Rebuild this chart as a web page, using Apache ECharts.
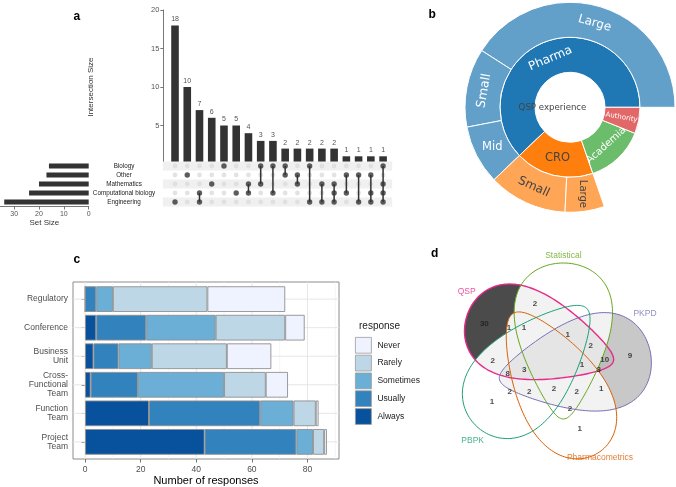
<!DOCTYPE html>
<html><head><meta charset="utf-8">
<script src="https://cdn.jsdelivr.net/npm/echarts@6/dist/echarts.min.js"></script>
<style>html,body{margin:0;padding:0;background:#fff}#c{width:676px;height:487px}</style>
</head><body><div id="c"></div>
<script>
// ---------------- Panel a : UpSet data ----------------
const setNames = ['Biology', 'Other', 'Mathematics', 'Computational biology', 'Engineering'];
const setSizes = [16, 17, 20, 24, 34];
const intersectionSizes = [18, 10, 7, 6, 5, 5, 4, 3, 3, 2, 2, 2, 2, 2, 1, 1, 1, 1];
const intersectionMembers = [
  ['Engineering'], ['Other'], ['Computational biology', 'Engineering'], ['Mathematics'],
  ['Biology'], ['Computational biology'], ['Mathematics', 'Computational biology'],
  ['Biology', 'Mathematics'], ['Biology', 'Computational biology'], ['Biology', 'Other'],
  ['Other', 'Mathematics'], ['Biology', 'Engineering'], ['Mathematics', 'Engineering'],
  ['Mathematics', 'Computational biology', 'Engineering'], ['Other', 'Computational biology'],
  ['Other', 'Engineering'], ['Other', 'Computational biology', 'Engineering'],
  ['Biology', 'Mathematics', 'Computational biology', 'Engineering']
];
const intersectionTicks = [0, 5, 10, 15, 20];
const setSizeTicks = [0, 10, 20, 30];

// ---------------- Panel b : sunburst data ----------------
const sunRoot = 'QSP experience';
const pharmaSizes = ['Large', 'Small', 'Mid'];
const pharmaCounts = [27, 8, 6];
const croSizes = ['Small', 'Large'];
const croCounts = [8, 4];
const academiaCount = 9;
const authorityCount = 4;

// ---------------- Panel c : stacked bars ----------------
const channels = ['Regulatory', 'Conference', 'Business\nUnit', 'Cross-\nFunctional\nTeam', 'Function\nTeam', 'Project\nTeam'];
const responseLevels = ['Always', 'Usually', 'Sometimes', 'Rarely', 'Never'];
const always    = [0, 4, 3, 2, 23, 43];
const usually   = [4, 18, 9, 17, 40, 33];
const sometimes = [6, 25, 12, 31, 12, 6];
const rarely    = [34, 25, 27, 15, 8, 4];
const never     = [28, 7, 16, 8, 1, 1];
const responseTicks = [0, 20, 40, 60, 80];

// ---------------- Panel d : Venn ----------------
const vennSets = ['QSP', 'Statistical', 'PKPD', 'PBPK', 'Pharmacometrics'];
const vennCounts = [30, 2, 1, 1, 1, 9, 2, 10, 1, 3, 2, 3, 8, 2, 2, 2, 2, 1, 1, 2, 1];

// ---------------- layout / style (not data) ----------------
const FONT = '"Liberation Sans", Arial, sans-serif';
const SUNFONT = '"DejaVu Sans", Verdana, sans-serif';
// Venn shape layout in venn-layout units: cx, cy, half-length, half-width, angle, taper
const vennShapes = [
  [420, 357, 230, 127, 17, 0.47],
  [490, 363, 234, 134, 90, 0.50],
  [525, 439, 230, 134, 170.3, 0.48],
  [395, 442, 242, 131, -47.2, 0.40],
  [466, 490, 245, 125, -121, 0.35]
];
const vennColors = ['#e7298a', '#66a61e', '#7570b3', '#1b9e77', '#d95f02'];
const vennNamePos = [[200, 215], [490, 108], [735, 282], [218, 663], [600, 712]];
const vennCountPos = [[253,312],[405,250],[327,322],[372,322],[503,343],[690,408],[572,378],[614,418],[546,435],[596,448],[278,421],[373,448],[323,462],[329,515],[388,515],[462,505],[530,515],[604,505],[276,545],[510,566],[539,625]];
const respColors = {Always:'#08519c', Usually:'#3182bd', Sometimes:'#6baed6', Rarely:'#bdd7e7', Never:'#eff3ff'};

// ---------- derived structures ----------
const colIdx = intersectionSizes.map((_, i) => String(i));
const activePts = [], inactivePts = [], linkSegs = [];
intersectionMembers.forEach((mem, c) => {
  const rows = mem.map(m => setNames.indexOf(m));
  setNames.forEach((_, r) => (rows.includes(r) ? activePts : inactivePts).push([c, r]));
  if (rows.length > 1) linkSegs.push([c, Math.min(...rows), Math.max(...rows)]);
});
const stripeRows = setNames.map((_, i) => i).filter(i => i % 2 === 0).map(i => [0, i]);

const sunStyle = {
  'QSP experience': {color:'#ffffff', lc:'#444', fs:8.6, rot:0},
  'Pharma': {color:'#1f77b4', lc:'#fff', fs:12, rot:23},
  'Pharma/Large': {color:'#62a0ca', lc:'#fff', fs:12, rot:-16},
  'Pharma/Small': {color:'#62a0ca', lc:'#fff', fs:12.5, rot:80},
  'Pharma/Mid': {color:'#62a0ca', lc:'#fff', fs:11.5, rot:0},
  'CRO': {color:'#ff7f0e', lc:'#444', fs:11.5, rot:0},
  'CRO/Small': {color:'#ffa556', lc:'#444', fs:12, rot:-25},
  'CRO/Large': {color:'#ffa556', lc:'#444', fs:10, rot:-90},
  'Academia': {color:'#6bbc6b', lc:'#fff', fs:10, rot:42},
  'Authority': {color:'#e26868', lc:'#fff', fs:7, rot:-10}
};
function sNode(key, name, value, children) {
  const st = sunStyle[key];
  const n = {name, itemStyle:{color:st.color}, label:{color:st.lc, fontSize:st.fs, rotate:st.rot, fontFamily:SUNFONT}};
  if (children) n.children = children; else n.value = value;
  return n;
}
const sunData = [sNode(sunRoot, sunRoot, null, [
  sNode('Pharma', 'Pharma', null, pharmaSizes.map((n, i) => sNode('Pharma/' + n, n, pharmaCounts[i]))),
  sNode('CRO', 'CRO', null, croSizes.map((n, i) => sNode('CRO/' + n, n, croCounts[i]))),
  sNode('Academia', 'Academia', academiaCount),
  sNode('Authority', 'Authority', authorityCount)
])];
sunData[0].itemStyle.borderWidth = 0;

const respSeries = {Always: always, Usually: usually, Sometimes: sometimes, Rarely: rarely, Never: never};
const responseGrid = [];
responseTicks.forEach(t => { responseGrid.push([t, 1]); responseGrid.push([t + 10, 0]); });

function shapePoints(api, s) {
  const [cx, cy, a, b, phi, t] = s;
  const c = Math.cos(phi * Math.PI / 180), sn = Math.sin(phi * Math.PI / 180);
  const pts = [];
  for (let k = 0; k < 160; k++) {
    const th = k / 160 * 2 * Math.PI;
    const u = a * Math.cos(th), v = b * Math.sin(th) * (1 - t * Math.cos(th));
    pts.push(api.coord([cx + u * c - v * sn, cy + u * sn + v * c]));
  }
  return pts;
}
function vennLayer(indices, styleFn, z) {
  return {type:'custom', xAxisIndex:5, yAxisIndex:5, z, silent:true,
    data: indices.map(i => [i, 0]),
    renderItem: (p, api) => {
      const i = api.value(0);
      return {type:'polygon', shape:{points: shapePoints(api, vennShapes[i])}, style: styleFn(i)};
    }};
}

const grids = [
  {left:168.9, top:10, width:220.3, height:154},
  {left:168.9, top:161.5, width:220.3, height:45},
  {left:0, top:161.5, width:88.7, height:45},
  {left:73, top:282, width:266, height:177, show:true, borderColor:'#8c8c8c', borderWidth:1, backgroundColor:'rgba(0,0,0,0)'},
  {left:73, top:284.85, width:266, height:171.3},
  {left:400, top:220, width:276, height:267}
].map(g => Object.assign({outerBoundsMode:'none', containLabel:false}, g));

const option = {
  animation: false,
  backgroundColor: '#fff',
  textStyle: {fontFamily: FONT},
  title: [
    {text:'a', left:73.5, top:10.5, padding:0, textStyle:{fontSize:12, fontWeight:'bold', color:'#000', fontFamily:FONT}},
    {text:'b', left:428.5, top:9, padding:0, textStyle:{fontSize:12, fontWeight:'bold', color:'#000', fontFamily:FONT}},
    {text:'c', left:73.5, top:253.5, padding:0, textStyle:{fontSize:12, fontWeight:'bold', color:'#000', fontFamily:FONT}},
    {text:'d', left:431, top:247.5, padding:0, textStyle:{fontSize:12, fontWeight:'bold', color:'#000', fontFamily:FONT}},
    {text:'response', left:359, top:321.5, padding:0, textStyle:{fontSize:10, fontWeight:'normal', color:'#1a1a1a', fontFamily:FONT}}
  ],
  legend: {
    data: ['Never', 'Rarely', 'Sometimes', 'Usually', 'Always'],
    orient:'vertical', left:355, top:337, padding:0, itemWidth:16, itemHeight:15.8, itemGap:1.2,
    icon:'rect', selectedMode:false,
    itemStyle:{borderColor:'#9a9a9a', borderWidth:0.8},
    textStyle:{fontSize:8.5, color:'#1a1a1a', fontFamily:FONT, padding:[0,0,0,1]}
  },
  grid: grids,
  xAxis: [
    {gridIndex:0, type:'category', data:colIdx, show:false},
    {gridIndex:1, type:'category', data:colIdx, show:false},
    {gridIndex:2, type:'value', inverse:true, min:0, max:35.7,
      axisLine:{show:true, lineStyle:{color:'#555', width:0.8}},
      axisTick:{show:true, length:3, customValues:setSizeTicks, lineStyle:{color:'#555', width:0.8}},
      axisLabel:{customValues:setSizeTicks, fontSize:7, color:'#555', margin:4, fontFamily:FONT},
      splitLine:{show:false},
      name:'Set Size', nameLocation:'middle', nameGap:11.5, nameTextStyle:{fontSize:8, color:'#333', fontFamily:FONT}},
    {gridIndex:3, type:'value', min:-4.35, max:91.35,
      axisLine:{show:false},
      axisTick:{show:true, length:3.5, customValues:responseTicks, lineStyle:{color:'#555', width:0.8}},
      axisLabel:{customValues:responseTicks, fontSize:8.5, color:'#4d4d4d', margin:6.5, fontFamily:FONT},
      splitLine:{show:false},
      name:'Number of responses', nameLocation:'middle', nameGap:15.5, nameTextStyle:{fontSize:11, color:'#000', fontFamily:FONT}},
    {gridIndex:4, type:'value', min:-4.35, max:91.35, show:false},
    {gridIndex:5, type:'value', min:0, max:828, show:false}
  ],
  yAxis: [
    {gridIndex:0, type:'value', min:0, max:20, interval:5, offset:5.6,
      axisLine:{show:true, lineStyle:{color:'#555', width:0.8}},
      axisTick:{show:true, length:3, lineStyle:{color:'#555', width:0.8}},
      axisLabel:{fontSize:7.5, color:'#555', margin:4, showMinLabel:false, fontFamily:FONT},
      splitLine:{show:false},
      name:'Intersection Size', nameLocation:'middle', nameGap:69, nameTextStyle:{fontSize:8, color:'#333', fontFamily:FONT}},
    {gridIndex:1, type:'category', inverse:true, data:setNames,
      axisLine:{show:false}, axisTick:{show:false},
      axisLabel:{fontSize:6.3, color:'#222', align:'center', margin:44.9, fontFamily:FONT}},
    {gridIndex:2, type:'category', inverse:true, data:setNames, show:false},
    {gridIndex:3, type:'value', min:0, max:1, show:false},
    {gridIndex:4, type:'category', inverse:true, data:channels,
      axisLine:{show:false},
      axisTick:{show:true, alignWithLabel:true, length:3.5, lineStyle:{color:'#555', width:0.8}},
      axisLabel:{fontSize:8.5, lineHeight:9.3, color:'#4d4d4d', margin:5, fontFamily:FONT},
      splitLine:{show:false}},
    {gridIndex:5, type:'value', min:0, max:801, inverse:true, show:false}
  ],
  series: [
    // ---- panel a ----
    {type:'bar', name:'Intersection Size', xAxisIndex:0, yAxisIndex:0, data:intersectionSizes, barWidth:7.6, z:2,
      itemStyle:{color:'#333'}, silent:true,
      label:{show:true, position:'top', distance:2.5, fontSize:7, color:'#555', fontFamily:FONT}},
    {type:'custom', xAxisIndex:1, yAxisIndex:1, z:3, silent:true, data:stripeRows, encode:{x:0, y:1},
      renderItem:(p, api) => {
        const c = api.coord([0, api.value(1)]);
        const h = api.size([0, 1])[1];
        const cs = p.coordSys;
        return {type:'rect', shape:{x:cs.x - 6, y:c[1] - h / 2, width:cs.width + 9, height:h}, style:{fill:'#f0f0f0'}};
      }},
    {type:'scatter', xAxisIndex:1, yAxisIndex:1, z:4, silent:true, data:inactivePts, symbolSize:4.8, itemStyle:{color:'#dcdcdc'}},
    {type:'custom', xAxisIndex:1, yAxisIndex:1, z:5, silent:true, data:linkSegs, encode:{x:0, y:[1, 2]},
      renderItem:(p, api) => {
        const a = api.coord([api.value(0), api.value(1)]);
        const b = api.coord([api.value(0), api.value(2)]);
        return {type:'line', shape:{x1:a[0], y1:a[1], x2:b[0], y2:b[1]}, style:{stroke:'#333', lineWidth:1.5}};
      }},
    {type:'scatter', xAxisIndex:1, yAxisIndex:1, z:6, silent:true, data:activePts, symbolSize:5.4, itemStyle:{color:'#333'}},
    {type:'bar', name:'Set Size', xAxisIndex:2, yAxisIndex:2, data:setSizes, barWidth:5, itemStyle:{color:'#333'}, silent:true},
    // ---- panel b ----
    {type:'sunburst', center:[570, 107.3], radius:[0, 105], startAngle:0, clockwise:false, sort:null,
      nodeClick:false, emphasis:{disabled:true}, silent:true,
      itemStyle:{borderColor:'#fff', borderWidth:1},
      label:{fontFamily:SUNFONT, minAngle:0},
      levels:[{}, {radius:[0, 35]}, {radius:[35, 70]}, {radius:[70, 105]}],
      data:sunData},
    // ---- panel c ----
    {type:'custom', xAxisIndex:3, yAxisIndex:3, z:1, silent:true, data:responseGrid, encode:{x:0, y:1},
      renderItem:(p, api) => {
        const x = api.coord([api.value(0), 0])[0];
        const cs = p.coordSys; const major = api.value(1) === 1;
        return {type:'line', shape:{x1:x, y1:cs.y, x2:x, y2:cs.y + cs.height},
          style:{stroke: major ? '#e6e6e6' : '#f0f0f0', lineWidth: major ? 1 : 0.6}};
      }},
    {type:'custom', xAxisIndex:4, yAxisIndex:4, z:1, silent:true, data:channels.map((_, i) => [0, i]), encode:{x:0, y:1},
      renderItem:(p, api) => {
        const y = api.coord([0, api.value(1)])[1];
        const cs = p.coordSys;
        return {type:'line', shape:{x1:cs.x, y1:y, x2:cs.x + cs.width, y2:y}, style:{stroke:'#e6e6e6', lineWidth:1}};
      }},
    ...responseLevels.map(lv => ({
      type:'bar', name:lv, stack:'resp', xAxisIndex:4, yAxisIndex:4, data:respSeries[lv], barWidth:'90%', z:2, silent:true,
      itemStyle:{color:respColors[lv], borderColor:'#8f8f8f', borderWidth:0.9}
    })),
    // ---- panel d ----
    vennLayer([0, 2], i => ({fill: i === 0 ? '#505050' : '#d3d3d3', stroke:'none'}), 1),
    vennLayer([1, 3, 4], () => ({fill:'#ffffff', stroke:'none'}), 2),
    vennLayer([0, 2], () => ({fill:'rgba(0,0,0,0.05)', stroke:'none'}), 3),
    vennLayer([0, 1, 2, 3, 4], i => ({fill:'none', stroke:vennColors[i], lineWidth: i === 0 ? 1.4 : 1}), 4),
    {type:'scatter', xAxisIndex:5, yAxisIndex:5, z:6, silent:true, symbolSize:1, itemStyle:{color:'rgba(0,0,0,0)'},
      data: vennCounts.map((v, i) => [vennCountPos[i][0], vennCountPos[i][1], v]),
      label:{show:true, position:'inside', formatter:p => String(p.value[2]), fontSize:8, fontWeight:'bold', color:'#1a1a1a', fontFamily:FONT}},
    {type:'scatter', xAxisIndex:5, yAxisIndex:5, z:6, silent:true, symbolSize:1, itemStyle:{color:'rgba(0,0,0,0)'},
      data: vennSets.map((n, i) => ({name:n, value:vennNamePos[i], label:{color:vennColors[i]}})),
      label:{show:true, position:'inside', formatter:p => p.name, fontSize:8.5, fontFamily:FONT}}
  ]
};
const chart = echarts.init(document.getElementById('c'), null, {width:676, height:487});
chart.setOption(option);
</script>
</body></html>
